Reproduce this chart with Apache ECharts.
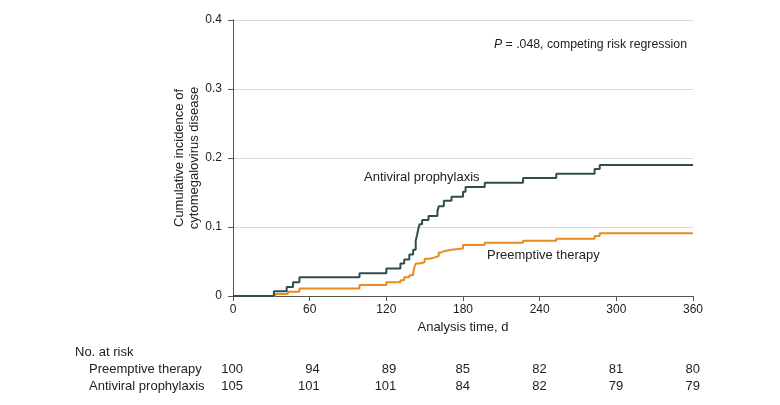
<!DOCTYPE html>
<html>
<head>
<meta charset="utf-8">
<script src="https://cdn.jsdelivr.net/npm/echarts@6/dist/echarts.min.js"></script>
<style>
html,body{margin:0;padding:0;background:#fff;}
#c{width:780px;height:405px;}
</style>
</head>
<body>
<div id="c"></div>
<script>
// ---- data ----
var antiviralDays = [0, 32, 42, 47, 52, 99, 120, 131, 134, 138, 141, 143, 144, 145, 146, 148, 153, 160, 161, 165, 171, 180, 182, 197, 227, 253, 283, 287, 360];
var antiviralInc  = [0, 0.007, 0.013, 0.020, 0.027, 0.033, 0.040, 0.047, 0.053, 0.060, 0.067, 0.080, 0.088, 0.097, 0.104, 0.110, 0.116, 0.123, 0.130, 0.138, 0.144, 0.151, 0.158, 0.164, 0.171, 0.177, 0.184, 0.190, 0.190];
var preemptDays = [0, 33, 43, 52, 99, 120, 131, 134, 138, 141, 142, 143, 146, 150, 154, 158, 161, 163, 165, 171, 180, 197, 227, 253, 283, 287, 360];
var preemptInc  = [0, 0.003, 0.006, 0.011, 0.016, 0.020, 0.023, 0.027, 0.030, 0.034, 0.042, 0.047, 0.049, 0.054, 0.056, 0.058, 0.063, 0.065, 0.067, 0.069, 0.074, 0.077, 0.080, 0.083, 0.087, 0.091, 0.091];
var riskTimes = [0, 60, 120, 180, 240, 300, 360];
var riskPreempt = [100, 94, 89, 85, 82, 81, 80];
var riskAntiviral = [105, 101, 101, 84, 82, 79, 79];
var riskRowLabels = ['Preemptive therapy', 'Antiviral prophylaxis'];

function pairs(xs, ys){ return xs.map(function(x,i){ return [x, ys[i]]; }); }

var FONT = 'Liberation Sans';
var TEXT = '#222';
var chart = echarts.init(document.getElementById('c'), null, {renderer:'canvas'});
var option = {
  animation:false,
  backgroundColor:'#fff',
  textStyle:{fontFamily:FONT},
  grid:{left:233, right:87, top:20, bottom:109, containLabel:false},
  xAxis:{
    type:'value', min:0, max:360, interval:60,
    name:'Analysis time, d', nameLocation:'middle', nameGap:25, nameMoveOverlap:false,
    nameTextStyle:{fontSize:13, color:TEXT, fontFamily:FONT},
    axisLine:{show:true, onZero:false, lineStyle:{color:'#555', width:1}},
    axisTick:{show:true, length:5, lineStyle:{color:'#555'}},
    axisLabel:{fontSize:12, color:TEXT, margin:8, fontFamily:FONT},
    splitLine:{show:false}
  },
  yAxis:{
    type:'value', min:0, max:0.4, interval:0.1,
    name:'Cumulative incidence of\ncytomegalovirus disease', nameLocation:'middle', nameGap:31, nameMoveOverlap:false,
    nameTextStyle:{fontSize:13, color:TEXT, fontFamily:FONT, lineHeight:15},
    axisLine:{show:true, lineStyle:{color:'#555', width:1}},
    axisTick:{show:true, length:5, lineStyle:{color:'#555'}},
    axisLabel:{fontSize:12, color:TEXT, margin:11, fontFamily:FONT,
      formatter:function(v){ return v===0 ? '0' : v.toFixed(1); }},
    splitLine:{show:true, lineStyle:{color:'#d9d9d9', width:1}}
  },
  series:[
    {name:'Preemptive therapy', type:'line', step:'end', showSymbol:false, symbol:'none',
     data:pairs(preemptDays, preemptInc), lineStyle:{color:'#ea8a1f', width:2}, z:3},
    {name:'Antiviral prophylaxis', type:'line', step:'end', showSymbol:false, symbol:'none',
     data:pairs(antiviralDays, antiviralInc), lineStyle:{color:'#2f4e4b', width:2}, z:4}
  ]
};
chart.setOption(option);

function px(t, v){ return chart.convertToPixel({gridIndex:0}, [t, v]); }

var g = [];
// curve labels
g.push({type:'text', x:364, y:177, style:{text:'Antiviral prophylaxis', font:'13px "'+FONT+'"', fill:TEXT, textVerticalAlign:'middle'}});
g.push({type:'text', x:487, y:255, style:{text:'Preemptive therapy', font:'13px "'+FONT+'"', fill:TEXT, textVerticalAlign:'middle'}});
// P-value annotation
g.push({type:'text', x:687, y:45, style:{
  text:'{i|P} = .048, competing risk regression', textAlign:'right', textVerticalAlign:'middle',
  font:'12.3px "'+FONT+'"', fill:TEXT,
  rich:{i:{fontStyle:'italic', fontSize:12.3, fontFamily:FONT, fill:TEXT}}
}});
// risk table
g.push({type:'text', x:75, y:352, style:{text:'No. at risk', font:'13px "'+FONT+'"', fill:TEXT, textVerticalAlign:'middle'}});
var rows = [riskPreempt, riskAntiviral];
var rowY = [369, 386];
rows.forEach(function(row, r){
  g.push({type:'text', x:89, y:rowY[r], style:{text:riskRowLabels[r], font:'13px "'+FONT+'"', fill:TEXT, textVerticalAlign:'middle'}});
  row.forEach(function(n, i){
    var t = riskTimes[i];
    var colHas3 = riskPreempt[i] >= 100 || riskAntiviral[i] >= 100;
    var x = px(t, 0)[0] + (colHas3 ? 10 : 7);
    g.push({type:'text', x:x, y:rowY[r], style:{text:String(n), font:'13px "'+FONT+'"', fill:TEXT, textAlign:'right', textVerticalAlign:'middle'}});
  });
});
chart.setOption({graphic:g});
</script>
</body>
</html>
